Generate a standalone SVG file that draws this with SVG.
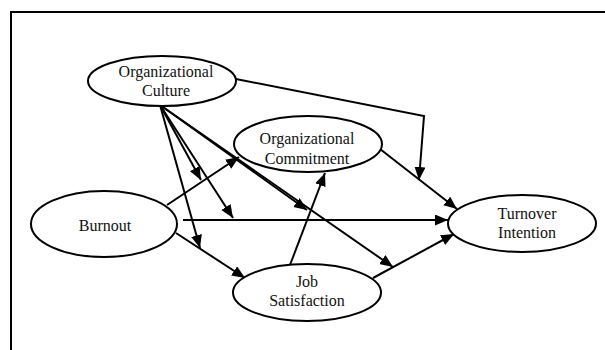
<svg xmlns="http://www.w3.org/2000/svg" width="605" height="350" viewBox="0 0 605 350">
  <style>
    .node ellipse { fill: #ffffff; stroke: #000000; stroke-width: 2; }
    .node text { font-family: 'Liberation Serif', 'DejaVu Serif', serif; font-size: 16px; fill: #111111; text-anchor: middle; }
    .edges line, .edges polyline { fill: none; stroke: #000000; stroke-width: 2; marker-end: url(#arrow); }
    .frame { fill: none; stroke: #000000; stroke-width: 2; }
  </style>
  <defs>
    <marker id="arrow" markerUnits="userSpaceOnUse" markerWidth="14" markerHeight="12" refX="13" refY="5.5" orient="auto">
      <path d="M0,0 L13,5.5 L0,11 Z" fill="#000000"/>
    </marker>
  </defs>
  <rect width="605" height="350" fill="#ffffff"/>
  <!-- open frame: left and top edges only -->
  <polyline class="frame" points="11,350 11,12 605,12"/>

  <g class="edges" id="connectors">
    <polyline points="236,79 424,116 419,180"/>
    <line x1="380" y1="149" x2="457" y2="209"/>
    <line x1="183" y1="220" x2="448" y2="220"/>
    <line x1="373" y1="278" x2="454" y2="234"/>
    <line x1="176" y1="233" x2="245" y2="278"/>
    <line x1="167" y1="205" x2="239" y2="157"/>
    <line x1="290" y1="265" x2="325" y2="173"/>
    <!-- moderating paths from Organizational Culture -->
    <line x1="160" y1="105" x2="200" y2="248"/>
    <line x1="160" y1="105" x2="201" y2="180"/>
    <line x1="160" y1="105" x2="233" y2="218"/>
    <line x1="160" y1="105" x2="307" y2="210"/>
    <line x1="160" y1="105" x2="393" y2="267"/>
  </g>

  <g class="node" id="culture">
    <ellipse cx="162" cy="81" rx="74" ry="25"/>
    <text x="166" y="77">Organizational</text>
    <text x="166" y="96">Culture</text>
  </g>
  <g class="node" id="commitment">
    <ellipse cx="308" cy="144" rx="74" ry="28"/>
    <text x="307" y="144">Organizational</text>
    <text x="307" y="164">Commitment</text>
  </g>
  <g class="node" id="burnout">
    <ellipse cx="104" cy="224" rx="73" ry="33"/>
    <text x="105" y="231">Burnout</text>
  </g>
  <g class="node" id="satisfaction">
    <ellipse cx="307" cy="292.5" rx="74" ry="28.5"/>
    <text x="307" y="287">Job</text>
    <text x="307" y="306">Satisfaction</text>
  </g>
  <g class="node" id="turnover">
    <ellipse cx="522" cy="223.5" rx="74" ry="28.5"/>
    <text x="527" y="219">Turnover</text>
    <text x="527" y="238">Intention</text>
  </g>
</svg>
